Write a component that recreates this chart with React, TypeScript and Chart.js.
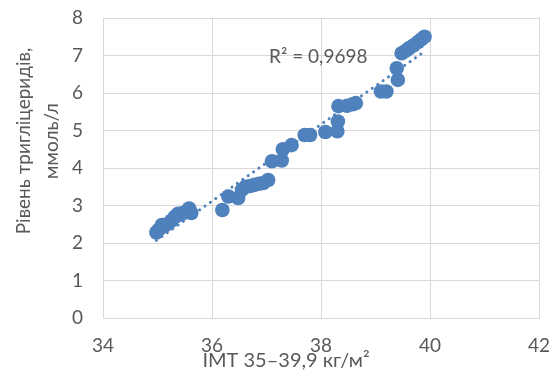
import React, { useEffect, useRef } from "react";
import { Chart, registerables } from "chart.js";

Chart.register(...registerables);

// BMI (kg/m²) values of the patients
const bmi: number[] = [
  34.98, 35.02, 35.08, 35.12, 35.2, 35.26, 35.32, 35.38, 35.41, 35.47, 35.52, 35.58, 35.62,
  36.19, 36.3, 36.48, 36.55, 36.62, 36.7, 36.78, 36.86, 36.94, 37.03,
  37.1, 37.28, 37.3, 37.46, 37.7, 37.8,
  38.08, 38.3, 38.31, 38.32, 38.48, 38.58, 38.64,
  39.1, 39.2, 39.41, 39.39, 39.48, 39.56, 39.62, 39.7, 39.78, 39.84, 39.9,
];
// Triglyceride levels (mmol/l)
const tg: number[] = [
  2.28, 2.35, 2.48, 2.45, 2.52, 2.6, 2.7, 2.78, 2.75, 2.8, 2.83, 2.92, 2.8,
  2.88, 3.24, 3.2, 3.42, 3.5, 3.52, 3.55, 3.58, 3.6, 3.68,
  4.18, 4.2, 4.5, 4.61, 4.88, 4.88,
  4.96, 4.98, 5.24, 5.65, 5.66, 5.7, 5.73,
  6.04, 6.04, 6.35, 6.66, 7.06, 7.13, 7.2, 7.27, 7.36, 7.43, 7.5,
];

const xTicks: number[] = [34, 36, 38, 40, 42];
const yTicks: number[] = [0, 1, 2, 3, 4, 5, 6, 7, 8];
const xTitle = "ІМТ 35–39,9 кг/м²";
const yTitle: string[] = ["Рівень тригліцеридів,", "ммоль/л"];
const r2Label = "R² = 0,9698";

const FONT = "Lato, 'Open Sans', sans-serif";
const TEXT = "#595959";
const GRID = "#D9D9D9";
const BLUE = "#4F81BD";

function regression(xs: number[], ys: number[]) {
  const n = xs.length;
  const mx = xs.reduce((a, b) => a + b, 0) / n;
  const my = ys.reduce((a, b) => a + b, 0) / n;
  let sxy = 0, sxx = 0;
  for (let i = 0; i < n; i++) {
    sxy += (xs[i] - mx) * (ys[i] - my);
    sxx += (xs[i] - mx) ** 2;
  }
  const slope = sxy / sxx;
  return { slope, intercept: my - slope * mx };
}

export default function App() {
  const ref = useRef<HTMLCanvasElement>(null);
  useEffect(() => {
    if (!ref.current) return;
    const { slope, intercept } = regression(bmi, tg);
    const xmin = Math.min(...bmi);
    const xmax = Math.max(...bmi);
    const trend = [
      { x: xmin, y: slope * xmin + intercept },
      { x: xmax, y: slope * xmax + intercept },
    ];
    const points = bmi.map((x, i) => ({ x, y: tg[i] }));

    const textPlugin = {
      id: "texts",
      afterDraw(chart: any) {
        const ctx = chart.ctx as CanvasRenderingContext2D;
        const xs = chart.scales.x;
        const ys = chart.scales.y;
        ctx.save();
        ctx.fillStyle = TEXT;
        ctx.textAlign = "center";
        ctx.textBaseline = "alphabetic";
        ctx.font = `20px ${FONT}`;
        ctx.fillText(xTitle, 286, 367);
        ctx.font = `19px ${FONT}`;
        ctx.fillText(r2Label, xs.getPixelForValue(37.95), ys.getPixelForValue(6.98) + 7);
        ctx.font = `19px ${FONT}`;
        ctx.save();
        ctx.translate(30, 141);
        ctx.rotate(-Math.PI / 2);
        ctx.fillText(yTitle[0], 0, 0);
        ctx.restore();
        ctx.save();
        ctx.translate(58, 141);
        ctx.rotate(-Math.PI / 2);
        ctx.fillText(yTitle[1], 0, 0);
        ctx.restore();
        ctx.restore();
      },
    };

    const chart = new Chart(ref.current, {
      type: "scatter",
      data: {
        datasets: [
          {
            type: "line",
            data: trend,
            borderColor: BLUE,
            borderWidth: 3,
            borderDash: [0.1, 6.5],
            borderCapStyle: "round",
            pointRadius: 0,
            fill: false,
            order: 0,
          } as any,
          {
            data: points,
            backgroundColor: BLUE,
            borderColor: BLUE,
            borderWidth: 0,
            pointRadius: 7.3,
            order: 1,
          },
        ],
      },
      options: {
        responsive: false,
        animation: false,
        devicePixelRatio: 1,
        layout: { padding: { left: 0, right: 11, top: 18, bottom: 0 } },
        plugins: { legend: { display: false }, tooltip: { enabled: false } },
        scales: {
          x: {
            type: "linear",
            min: 34,
            max: 42,
            afterBuildTicks: (s: any) => {
              s.ticks = xTicks.map((v) => ({ value: v }));
            },
            afterFit: (s: any) => {
              s.height = 385 - 318;
              s.paddingLeft = 0;
              s.paddingRight = 0;
            },
            grid: { color: GRID, lineWidth: 1, drawTicks: false },
            border: { color: GRID },
            ticks: { color: TEXT, font: { family: FONT, size: 19 }, padding: 16 },
          },
          y: {
            type: "linear",
            min: 0,
            max: 8,
            afterBuildTicks: (s: any) => {
              s.ticks = yTicks.map((v) => ({ value: v }));
            },
            afterFit: (s: any) => {
              s.width = 103;
              s.paddingTop = 0;
              s.paddingBottom = 0;
            },
            grid: { color: GRID, lineWidth: 1, drawTicks: false },
            border: { color: GRID },
            ticks: { color: TEXT, font: { family: FONT, size: 19 }, padding: 20 },
          },
        },
      },
      plugins: [textPlugin],
    });
    return () => chart.destroy();
  }, []);
  return (
    <div style={{ position: "absolute", left: 0, top: 0, width: 550, height: 385, background: "#fff" }}>
      <canvas ref={ref} width={550} height={385} />
    </div>
  );
}
